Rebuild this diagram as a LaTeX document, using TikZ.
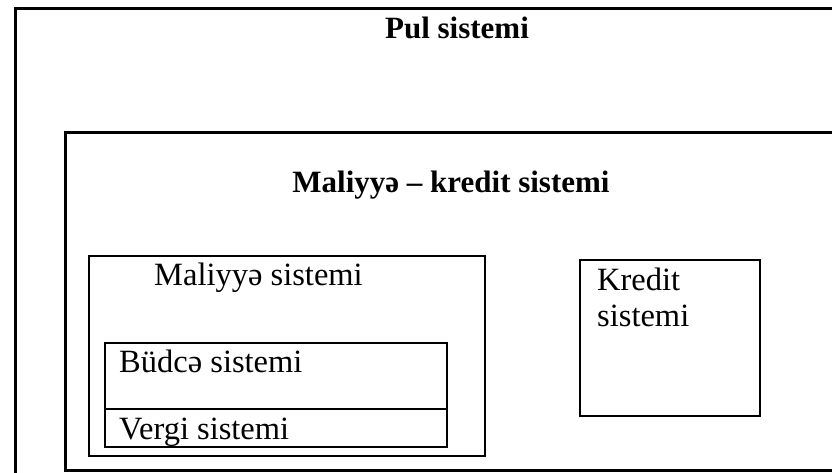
\documentclass[tikz,border=0pt]{standalone}
\usepackage{fontspec}
\setmainfont{Liberation Serif}
\begin{document}
\begin{tikzpicture}[x=1pt,y=-1pt,
  frame/.style={draw,inner sep=0pt,outer sep=0pt,anchor=north west},
  heading/.style={font=\bfseries\fontsize{31}{36}\selectfont,inner sep=0pt,anchor=base},
  caption/.style={font=\fontsize{32.5}{36}\selectfont,inner sep=0pt,anchor=base west}]
\useasboundingbox (0,0) rectangle (832,473);
\clip (0,0) rectangle (832,473);
% nested system frames
\node[frame,line width=3pt,minimum width=850pt,minimum height=490pt] (pul) at (15,9) {};
\node[frame,line width=3pt,minimum width=800pt,minimum height=337pt] (mk) at (65,133) {};
\node[frame,line width=2pt,minimum width=396pt,minimum height=200pt] (mal) at (89,256) {};
\node[frame,line width=1.6pt,minimum width=342pt,minimum height=66pt] (budce) at (105,343) {};
\node[frame,line width=1.6pt,minimum width=342pt,minimum height=38pt] (vergi) at (105,409) {};
\node[frame,line width=2.4pt,minimum width=180pt,minimum height=156pt] (kredit) at (580,260) {};
% titles
\node[heading] (tpul) at (457,39) {Pul sistemi};
\node[heading] (tmk) at (451,193) {Maliyyə – kredit sistemi};
\node[caption] (tmal) at (154,285) {Maliyyə sistemi};
\node[caption] (tbud) at (119,372) {Büdcə sistemi};
\node[caption] (tver) at (119,439) {Vergi sistemi};
\node[caption] (tkre) at (597,290) {Kredit};
\node[caption] (tsis) at (597,326) {sistemi};
\end{tikzpicture}
\end{document}
